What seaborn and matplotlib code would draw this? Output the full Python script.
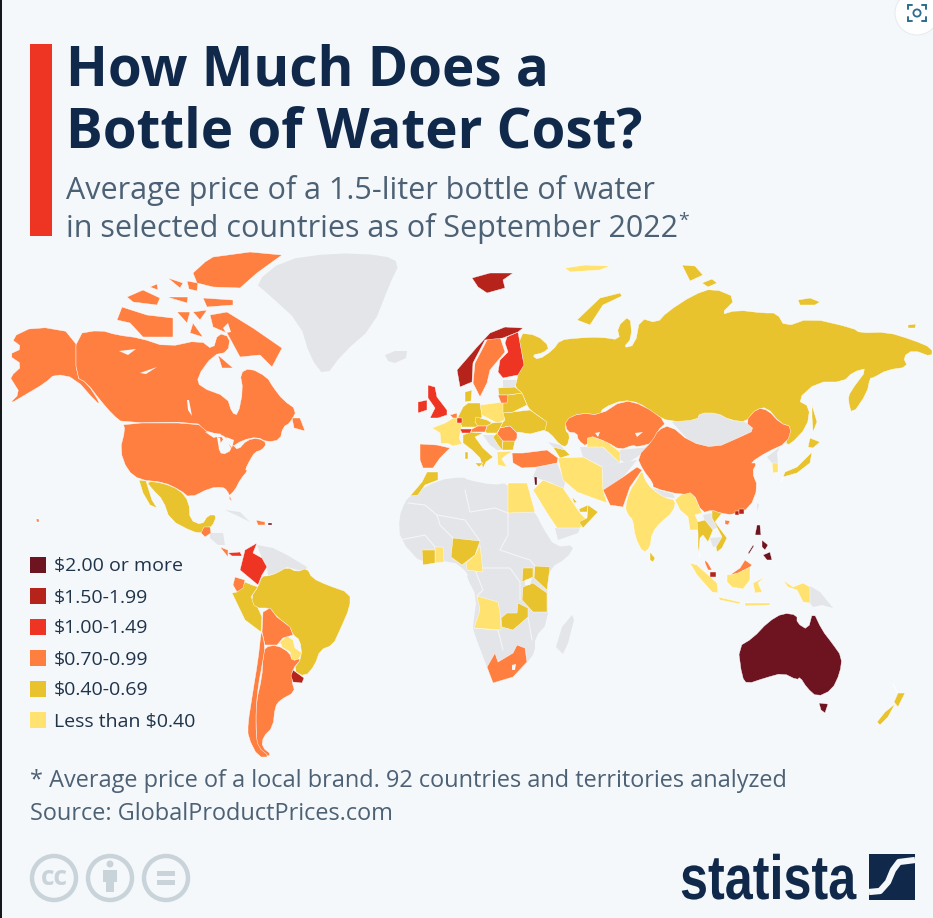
import matplotlib
matplotlib.use('Agg')
import matplotlib.pyplot as plt
from matplotlib.patches import Circle, Rectangle, Polygon
from matplotlib.patheffects import AbstractPathEffect
from matplotlib.transforms import Affine2D
import pandas as pd
import seaborn as sns

BACKGROUND = '#f5f8fb'
NO_DATA = '#e3e5e8'
NAVY = '#10294a'
SLATE = '#4d6175'
INK = '#1f3349'

legend_labels = ['$2.00 or more', '$1.50-1.99', '$1.00-1.49', '$0.70-0.99', '$0.40-0.69', 'Less than $0.40']
legend_colors = ['#6e1420', '#b5231a', '#ee3524', '#ff7f41', '#e8c32e', '#ffe26f']
legend_rows = [565, 596, 627, 658, 689, 720]

alaska = [(10,338),(35,326),(76,333),(76,377),(87,383),(100,403),(97,403),(75,378),(55,374),(45,383),(30,392),(8,405),(20,393),(13,382),(10,377),(23,365),(8,355),(23,348)]
canada = [(76,334),(100,330),(117,335),(140,338),(167,347),(200,340),(213,350),(218,333),(230,337),(228,352),(213,355),(197,377),(200,387),(227,397),(232,413),(238,415),(243,390),(240,373),(250,368),(267,377),(273,387),(283,400),(297,410),(290,423),(283,427),(280,440),(267,442),(257,437),(243,440),(230,448),(227,437),(213,433),(203,430),(197,422),(123,423),(113,415),(100,400),(87,383),(76,377)]
newfoundland = [(292,418),(300,418),(305,431),(294,428)]
baffin = [(210,315),(227,312),(253,328),(282,348),(272,367),(260,355),(240,357),(227,333),(213,327)]
southampton = [(218,355),(233,368),(222,368)]
victoria = [(117,320),(122,307),(147,315),(173,318),(173,337),(143,337),(130,323)]
banks = [(127,297),(143,290),(160,298),(157,305),(133,302)]
arctic_a = [(168,278),(183,283),(180,288)]
arctic_b = [(167,297),(188,297),(187,303)]
arctic_c = [(187,281),(198,283),(197,291),(189,289)]
arctic_d = [(150,287),(157,284),(158,290)]
ellesmere = [(193,273),(205,262),(213,257),(250,252),(282,255),(268,265),(257,273),(240,288),(213,287),(197,283)]
devon = [(203,298),(233,300),(233,305),(207,307)]
somerset = [(177,312),(190,312),(187,323)]
boothia = [(193,312),(207,310),(200,320)]
king_william = [(193,323),(203,337),(190,333)]
usa = [(123,423),(197,423),(205,430),(213,437),(225,437),(218,447),(222,455),(232,450),(228,443),(233,445),(238,450),(247,440),(258,438),(267,443),(262,450),(255,452),(250,460),(245,470),(248,470),(240,480),(235,490),(228,497),(233,503),(227,490),(222,487),(210,488),(190,498),(180,490),(163,482),(140,480),(127,470),(120,450),(125,430)]
mexico = [(146,481),(163,483),(180,490),(189,502),(190,520),(202,525),(208,515),(217,515),(212,527),(207,527),(210,532),(202,533),(193,532),(170,520),(163,500),(153,490)]
baja = [(139,480),(146,481),(152,500),(157,508),(150,505),(143,493)]
guatemala = [(204,527),(210,527),(211,533),(205,537),(201,533)]
central_america = [(210,533),(223,533),(225,545),(218,545),(210,538)]
costa_rica = [(220,547),(228,550),(228,557)]
panama = [(228,553),(240,552),(242,556),(236,556),(232,556)]
colombia = [(257,543),(245,550),(240,570),(252,580),(258,585),(262,575),(267,567),(262,558),(253,553)]
venezuela_guianas = [(257,545),(273,548),(287,555),(307,567),(305,572),(287,567),(277,573),(268,575),(267,567),(262,558)]
ecuador = [(235,577),(245,580),(243,588),(237,592),(233,585)]
peru = [(245,582),(252,585),(258,587),(251,597),(258,608),(262,617),(261,632),(245,620),(232,593),(237,592)]
bolivia = [(263,612),(270,608),(277,617),(290,627),(293,635),(283,638),(277,645),(265,645),(262,632)]
brazil = [(307,568),(312,578),(327,585),(350,593),(350,607),(340,630),(333,645),(320,650),(315,665),(305,677),(293,670),(302,657),(300,640),(293,635),(290,627),(277,617),(270,608),(255,608),(251,597),(258,587),(262,576),(268,576),(277,573),(287,567),(297,572)]
paraguay = [(280,642),(287,636),(293,640),(295,648),(302,653),(298,660),(292,660),(290,652),(282,647)]
argentina = [(265,647),(277,645),(290,653),(292,661),(302,658),(292,670),(292,682),(295,692),(280,700),(275,707),(273,727),(263,737),(262,747),(272,755),(262,757),(257,747),(256,727),(256,703),(262,677),(263,657)]
chile = [(262,632),(265,647),(263,660),(258,687),(256,710),(256,733),(258,747),(270,757),(258,757),(248,737),(248,723),(252,697),(258,660),(261,633)]
uruguay = [(293,670),(304,678),(302,683),(293,682),(291,676)]
cuba = [(225,510),(240,512),(250,522),(238,516)]
dominican = [(256,520),(265,522),(265,525),(258,525)]
puerto_rico = [(268,523),(272,523),(272,525),(268,525)]
hawaii = [(36,519),(39,519),(39,522),(37,522)]
greenland = [(255,283),(283,260),(333,253),(383,255),(400,263),(390,283),(373,327),(343,353),(325,377),(310,357),(300,323),(267,293)]
iceland = [(385,355),(395,351),(407,351),(406,358),(395,363),(388,361)]
svalbard = [(472,278),(490,273),(513,273),(503,280),(505,288),(487,293),(478,287)]
norway = [(523,328),(505,327),(490,333),(477,347),(457,370),(460,387),(472,382),(473,363),(485,340),(503,338),(518,332)]
sweden = [(500,337),(505,352),(490,370),(487,383),(480,397),(473,383),(475,363),(487,340)]
finland = [(518,332),(524,365),(518,375),(503,378),(498,372),(500,360),(508,352),(505,343),(507,337)]
russia = [(518,333),(537,335),(550,347),(543,353),(532,355),(538,360),(553,350),(560,340),(577,338),(600,337),(620,340),(617,327),(630,315),(632,338),(623,348),(635,345),(640,318),(657,323),(667,312),(693,295),(713,288),(737,298),(720,315),(737,310),(763,313),(777,313),(785,327),(810,318),(853,328),(860,333),(887,332),(913,340),(932,348),(932,357),(913,350),(903,357),(908,367),(887,370),(873,378),(870,378),(867,393),(852,415),(848,400),(850,392),(868,368),(853,372),(843,382),(817,382),(797,400),(810,407),(807,427),(790,445),(785,443),(792,427),(780,423),(767,407),(755,410),(747,422),(730,420),(717,413),(700,413),(697,420),(670,422),(652,413),(640,403),(623,400),(603,408),(600,415),(580,413),(567,420),(565,430),(570,435),(567,447),(560,445),(550,433),(543,430),(547,422),(530,410),(527,405),(522,393),(515,387),(517,380),(518,373),(524,365)]
novaya_zemlya = [(577,320),(600,298),(620,293),(622,296),(603,305),(590,325)]
severnaya = [(682,265),(695,266),(703,275),(690,281)]
taymyr_isle = [(702,283),(712,279),(717,283),(708,287)]
new_siberian = [(798,300),(810,298),(820,302),(815,305),(800,305)]
wrangel = [(908,325),(916,324),(915,328),(908,328)]
franz_josef = [(565,268),(585,265),(610,266),(600,270),(570,272)]
sakhalin = [(812,405),(817,422),(813,432),(812,417)]
kazakhstan = [(565,420),(580,413),(600,415),(623,400),(643,405),(667,422),(658,430),(653,443),(637,447),(633,445),(620,450),(607,442),(588,435),(587,447),(578,440),(577,433),(567,432)]
uzbekistan = [(588,435),(607,442),(620,452),(620,463),(603,447),(587,447)]
turkmenistan = [(580,447),(603,447),(620,463),(603,467),(583,457)]
kyrgyz_tajik = [(620,450),(650,447),(637,457),(627,463),(620,460)]
afghanistan = [(602,467),(620,463),(637,460),(623,477),(613,490),(603,490)]
iran = [(558,458),(583,457),(602,467),(603,490),(607,503),(593,498),(577,492),(563,480),(560,467)]
pakistan = [(603,490),(623,477),(637,467),(642,470),(630,487),(623,507),(610,505)]
china = [(637,457),(653,440),(658,430),(670,425),(690,442),(715,448),(740,437),(755,430),(745,422),(757,408),(768,410),(780,423),(792,427),(787,443),(767,452),(750,463),(757,463),(752,472),(758,487),(750,508),(733,515),(720,513),(712,510),(702,513),(693,492),(682,495),(653,488),(653,483),(643,470)]
nepal = [(652,488),(663,497),(675,498),(673,494)]
mongolia = [(672,422),(700,413),(717,413),(730,420),(745,422),(755,430),(740,437),(715,448),(690,442)]
india = [(642,470),(637,480),(630,490),(625,507),(628,515),(633,520),(635,537),(643,553),(650,548),(652,533),(660,523),(673,512),(676,500),(665,498),(652,489),(645,480)]
myanmar = [(683,493),(693,492),(702,513),(695,515),(702,530),(690,530),(688,517),(680,510),(675,500)]
sri_lanka = [(650,552),(655,558),(653,562),(650,560)]
thailand = [(697,522),(705,520),(713,530),(708,542),(703,535),(700,538),(699,552),(700,558),(698,547),(698,533)]
laos = [(703,515),(712,513),(718,527),(712,530),(705,522)]
vietnam = [(712,510),(722,513),(715,522),(727,538),(722,548),(717,552),(716,547),(722,537),(712,518)]
cambodia = [(710,538),(722,537),(720,545),(713,547)]
hainan = [(725,520),(730,521),(728,525),(725,524)]
macau = [(735,511),(739,511),(739,515),(735,515)]
hong_kong = [(739,509),(744,509),(744,514),(739,514)]
taiwan = [(757,503),(759,505),(757,511)]
luzon = [(757,525),(760,525),(761,535),(755,535)]
visayas = [(762,540),(768,545),(765,550),(762,547)]
mindanao = [(763,555),(770,552),(772,560),(767,560)]
palawan = [(748,553),(753,545),(754,546),(749,554)]
malaysia = [(705,560),(708,563),(712,570),(708,570),(705,563)]
singapore = [(710,572),(716,572),(716,577),(710,577)]
kalimantan = [(727,575),(737,573),(750,567),(750,580),(743,589),(732,587),(727,582)]
sarawak = [(730,575),(740,568),(745,560),(752,565),(750,567),(738,573)]
sumatra = [(690,563),(697,565),(717,583),(718,593),(712,592),(697,575)]
java = [(718,597),(740,602),(740,604),(720,600)]
sunda = [(745,603),(770,603),(770,605),(745,606)]
sulawesi = [(753,583),(765,577),(758,583),(762,592),(755,593)]
west_papua = [(783,580),(793,587),(803,583),(810,587),(810,603),(803,602),(797,590),(788,587)]
papua = [(810,586),(820,592),(833,608),(822,605),(813,607),(810,603)]
australia = [(813,611),(822,630),(832,643),(842,657),(840,673),(832,690),(817,697),(807,688),(800,677),(797,680),(783,673),(765,678),(747,684),(742,677),(738,647),(753,638),(768,622),(783,613),(797,615),(797,623),(808,630)]
tasmania = [(819,703),(828,704),(825,713),(821,710)]
nz_north = [(893,684),(898,693),(905,693),(898,707),(894,702),(898,693)]
nz_south = [(895,704),(888,717),(880,725),(877,722),(885,712)]
honshu = [(812,452),(810,463),(797,473),(783,477),(781,482),(785,472),(797,467),(807,457)]
hokkaido = [(810,438),(820,442),(813,448),(808,447)]
south_korea = [(772,463),(778,463),(778,472),(773,473)]
north_korea = [(767,457),(780,447),(777,453),(778,463),(772,463)]
uk = [(428,385),(435,387),(437,397),(447,410),(447,415),(438,418),(430,418),(435,408),(428,398)]
ireland = [(418,402),(427,400),(427,410),(418,413)]
france = [(432,428),(445,423),(455,417),(462,419),(461,430),(459,438),(462,444),(453,446),(447,443),(441,444),(440,433)]
spain_portugal = [(420,444),(437,445),(450,448),(440,458),(433,468),(423,468),(420,460)]
morocco = [(427,472),(438,472),(438,480),(425,485),(418,495),(410,496),(422,482)]
germany = [(468,403),(480,403),(482,417),(475,422),(480,427),(462,427),(458,417),(463,407)]
denmark = [(465,392),(472,390),(471,401),(465,402)]
poland = [(480,405),(503,402),(505,420),(497,423),(482,415)]
belgium = [(457,418),(462,418),(462,423),(457,423)]
netherlands = [(450,415),(457,413),(457,418),(453,418)]
switzerland = [(460,429),(472,429),(470,433),(462,433)]
austria = [(472,429),(478,426),(487,426),(485,432),(471,432)]
czechia = [(476,417),(487,420),(492,423),(487,426),(478,426),(475,422)]
hungary_slovakia = [(492,423),(503,422),(500,428),(497,433),(487,433),(485,432),(487,426)]
italy = [(463,435),(471,432),(483,433),(475,437),(483,448),(493,457),(486,462),(483,468),(480,458),(472,450),(463,443)]
sardinia = [(465,452),(468,452),(468,459),(465,459)]
sicily = [(475,463),(483,463),(479,467)]
balkans = [(483,435),(495,435),(502,450),(497,450),(490,445)]
serbia = [(497,433),(503,441),(502,450),(498,445),(493,437)]
bulgaria = [(503,441),(515,441),(513,450),(502,450)]
romania = [(500,428),(510,426),(517,433),(517,438),(515,441),(503,441),(497,434)]
greece = [(497,452),(513,451),(505,456),(502,459),(507,467),(498,465)]
ukraine = [(503,413),(530,410),(547,422),(545,430),(530,434),(518,432),(517,433),(510,426),(500,428),(503,422),(505,420)]
belarus = [(503,402),(508,395),(522,393),(527,405),(513,412),(503,413)]
lithuania = [(498,395),(508,395),(507,403),(501,403)]
latvia = [(498,388),(515,387),(522,393),(508,395),(499,395)]
estonia = [(503,380),(517,380),(515,387),(503,388)]
georgia = [(548,442),(560,445),(565,450),(553,447)]
turkey = [(512,453),(523,453),(547,450),(558,458),(557,463),(537,467),(522,468),(513,463)]
azerbaijan = [(553,447),(565,450),(570,455),(560,458)]
iraq_syria = [(537,467),(557,463),(565,483),(563,490),(550,482),(533,477)]
israel = [(534,477),(537,477),(537,485),(535,485)]
egypt = [(508,483),(527,483),(535,512),(508,513)]
saudi = [(533,490),(543,480),(563,488),(580,513),(587,520),(580,528),(557,528),(547,513)]
oman = [(588,505),(598,512),(583,528),(579,522),(587,518)]
uae = [(579,509),(588,505),(587,512),(580,512)]
qatar = [(572,497),(577,502),(574,503)]
yemen = [(555,528),(580,528),(578,533),(558,540)]
africa = [(410,496),(438,480),(463,477),(468,480),(493,485),(508,483),(535,512),(543,528),(555,547),(575,545),(567,558),(550,568),(547,588),(548,623),(535,637),(535,652),(527,663),(513,677),(493,683),(487,667),(473,630),(473,625),(477,597),(467,578),(468,573),(452,560),(423,565),(400,540),(399,517),(405,502)]
ivory_coast = [(422,550),(435,550),(435,563),(423,565)]
ghana = [(435,547),(443,547),(444,562),(435,563)]
nigeria = [(453,538),(480,541),(475,555),(462,565),(451,557)]
cameroon = [(480,545),(483,572),(467,570),(466,563),(475,555)]
uganda = [(523,568),(533,568),(533,577),(522,582)]
kenya = [(535,566),(550,567),(547,590),(534,578)]
tanzania = [(523,587),(533,583),(547,593),(547,612),(533,612),(522,600)]
zambia = [(518,603),(528,608),(528,617),(513,630),(502,627),(501,618),(507,613),(517,613)]
angola = [(477,596),(498,602),(500,613),(501,630),(474,628),(480,610)]
south_africa = [(495,653),(498,662),(513,653),(517,645),(525,648),(527,662),(513,677),(493,683),(487,667)]
madagascar = [(572,615),(574,620),(568,643),(563,654),(556,647),(562,627)]

no_data_shapes = [greenland, iceland, africa, madagascar, central_america, venezuela_guianas, cuba, turkmenistan, kyrgyz_tajik, afghanistan, nepal, mongolia, laos, cambodia, taiwan, papua, north_korea, balkans, estonia, georgia, iraq_syria, yemen]
# cheapest tier first so the tiny dear countries stay on top
tier_shapes = {
    'Less than $0.40': [paraguay, franz_josef, uzbekistan, iran, india, myanmar, kalimantan, sumatra, java, sunda, sulawesi, west_papua, south_korea, france, poland, greece, egypt, saudi, ghana, cameroon, angola],
    '$0.40-0.69': [mexico, baja, peru, brazil, russia, novaya_zemlya, severnaya, taymyr_isle, new_siberian, wrangel, sakhalin, sri_lanka, thailand, vietnam, nz_north, nz_south, honshu, hokkaido, morocco, germany, denmark, czechia, hungary_slovakia, italy, sardinia, sicily, serbia, bulgaria, ukraine, belarus, latvia, azerbaijan, oman, uae, qatar, ivory_coast, nigeria, uganda, kenya, tanzania, zambia],
    '$0.70-0.99': [alaska, canada, newfoundland, baffin, southampton, victoria, banks, arctic_a, arctic_b, arctic_c, arctic_d, ellesmere, devon, somerset, boothia, king_william, usa, guatemala, costa_rica, ecuador, bolivia, argentina, chile, dominican, hawaii, sweden, kazakhstan, pakistan, china, hainan, malaysia, sarawak, spain_portugal, netherlands, austria, romania, lithuania, turkey, south_africa],
    '$1.00-1.49': [finland, uk, ireland, colombia, panama, belgium, switzerland],
    '$1.50-1.99': [norway, svalbard, uruguay, macau, hong_kong, singapore],
    '$2.00 or more': [australia, tasmania, luzon, visayas, mindanao, palawan, puerto_rico, israel],
}
# water and small holes on top of the land
lake_shapes = [
    [(205,432),(222,434),(214,438)], [(217,437),(220,438),(222,450),(219,449)], [(226,437),(234,440),(232,448),(228,443)],
    [(119,351),(136,349),(128,355)], [(140,373),(157,367),(146,374)], [(187,400),(189,400),(192,416),(188,410)],
    [(525,580),(532,578),(530,585),(525,585)], [(512,665),(516,664),(515,670),(512,670)],
    [(635,433),(643,432),(637,437)], [(595,433),(600,432),(598,437)], [(223,328),(228,323),(231,332),(226,333)],
]
# faint borders inside the grey part of Africa
africa_borders = [
    [(408,503),(425,505),(437,515),(440,525),(453,538)], [(437,515),(465,520),(480,541)], [(465,490),(470,512),(495,508),(508,513)],
    [(508,513),(508,535),(500,550),(530,560),(535,566)], [(480,568),(510,568),(520,582),(520,600)], [(400,540),(425,535),(435,547)],
    [(474,628),(498,630),(503,650)], [(528,617),(532,640)], [(475,570),(483,590),(477,596)],
]


def soften(shape):
    # one round of corner cutting, only for the long outlines
    if len(shape) < 12:
        return shape
    out = []
    for (x0, y0), (x1, y1) in zip(shape, shape[1:] + shape[:1]):
        out.append((0.75 * x0 + 0.25 * x1, 0.75 * y0 + 0.25 * y1))
        out.append((0.25 * x0 + 0.75 * x1, 0.25 * y0 + 0.75 * y1))
    return out


class Squeeze(AbstractPathEffect):
    # narrows the glyphs of a text, the logo face is a condensed one
    def __init__(self, factor):
        super().__init__()
        self.factor = factor

    def draw_path(self, renderer, gc, tpath, affine, rgbFace=None):
        renderer.draw_path(gc, tpath, Affine2D().scale(self.factor, 1) + affine, rgbFace)


sns.set_theme(style='white')
plt.rcParams['font.family'] = ['Open Sans', 'DejaVu Sans']

fig = plt.figure(figsize=(9.33, 9.18), dpi=100, facecolor=BACKGROUND)
ax = fig.add_axes([0, 0, 1, 1])

# map, grey countries first
for shape in no_data_shapes:
    ax.add_patch(Polygon(soften(shape), closed=True, fc=NO_DATA, ec='none', zorder=1))
for line in africa_borders:
    ax.plot(*zip(*line), color='#f3f5f7', lw=0.8, zorder=1.5)
tier_color = dict(zip(legend_labels, legend_colors))
for label, shapes in tier_shapes.items():
    for shape in shapes:
        ax.add_patch(Polygon(soften(shape), closed=True, fc=tier_color[label], ec='#ffffff', lw=0.3, joinstyle='round', zorder=2))
for shape in lake_shapes:
    ax.add_patch(Polygon(shape, closed=True, fc=BACKGROUND, ec='none', zorder=3))

# legend
legend_df = pd.DataFrame({'label': legend_labels, 'row': legend_rows, 'x': 38})
sns.scatterplot(data=legend_df, x='x', y='row', hue='label', palette=legend_colors, marker='s', s=120,
                linewidth=0, legend=False, ax=ax, zorder=4)
ax.set_xlim(0, 933)
ax.set_ylim(918, 0)
ax.axis('off')
for label, row in zip(legend_labels, legend_rows):
    ax.text(54, row + 6.5, label.replace('$', r'\$'), fontsize=14.0, color=INK, va='baseline')

# header
ax.add_patch(Rectangle((30, 44), 22, 192, fc='#ee3524', ec='none'))
ax.text(66, 85, 'How Much Does a', fontsize=39.4, fontweight='bold', color=NAVY, va='baseline')
ax.text(66, 147, 'Bottle of Water Cost?', fontsize=39.4, fontweight='bold', color=NAVY, va='baseline')
ax.text(66, 199, 'Average price of a 1.5-liter bottle of water', fontsize=22.0, color=SLATE, va='baseline')
ax.text(66, 237, 'in selected countries as of September 2022', fontsize=22.0, color=SLATE, va='baseline')
ax.text(678, 226, '*', fontsize=14, color=SLATE, va='baseline')

# footer
ax.text(30, 787, '* Average price of a local brand. 92 countries and territories analyzed', fontsize=16.95, color=SLATE, va='baseline')
ax.text(30, 820, 'Source: GlobalProductPrices.com', fontsize=16.95, color=SLATE, va='baseline')

# licence badges
for cx in [54, 110, 166]:
    ax.add_patch(Circle((cx, 878), 22, fc='none', ec='#c9d3da', lw=3.2))
ax.text(54, 885, 'cc', fontsize=19, fontweight='bold', color='#c9d3da', ha='center', va='baseline')
ax.add_patch(Circle((110, 864), 3.5, fc='#c9d3da', ec='none'))
ax.add_patch(Rectangle((103, 870), 14, 12, fc='#c9d3da', ec='none'))
ax.add_patch(Rectangle((106, 880), 8, 12, fc='#c9d3da', ec='none'))
ax.add_patch(Rectangle((157, 871), 18, 4.5, fc='#c9d3da', ec='none'))
ax.add_patch(Rectangle((157, 880), 18, 4.5, fc='#c9d3da', ec='none'))

# statista logo
ax.text(680, 899, 'statista', family=['Liberation Sans'], fontsize=45, fontweight='bold', color=NAVY, va='baseline',
        path_effects=[Squeeze(0.805)])
ax.add_patch(Rectangle((869, 854), 46, 46, fc=NAVY, ec='none'))
ax.plot([869, 880, 888, 893, 899, 915], [892, 891, 882, 870, 862, 860], color=BACKGROUND, lw=4.5, solid_capstyle='butt')

# screenshot bits: left edge and the round scan button
ax.add_patch(Rectangle((0, 0), 2, 918, fc='#14181c', ec='none'))
ax.add_patch(Circle((917, 13), 22, fc='#ffffff', ec='#e8ecef', lw=0.8, zorder=5))
for x0, x1, y0, y1 in [(908, 908, 9, 5), (908, 912, 5, 5), (926, 926, 9, 5), (926, 922, 5, 5), (908, 908, 17, 21), (908, 912, 21, 21), (926, 926, 17, 21), (926, 922, 21, 21)]:
    ax.plot([x0, x1], [y0, y1], color='#2b6c8f', lw=1.4, zorder=6)
ax.add_patch(Circle((917, 13), 3.6, fc='none', ec='#2b6c8f', lw=1.3, zorder=6))

fig.savefig('out.png', dpi=100, facecolor=BACKGROUND)
